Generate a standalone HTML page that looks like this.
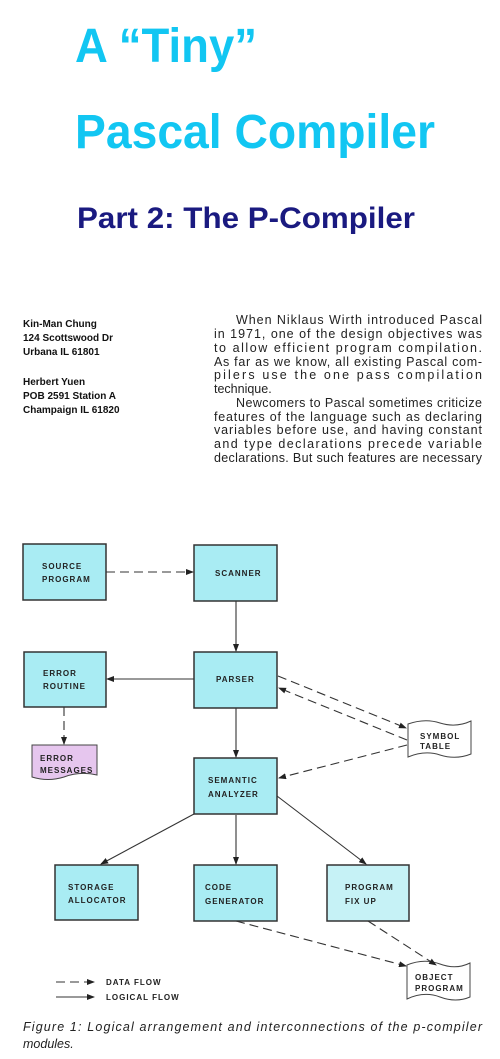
<!DOCTYPE html>
<html><head><meta charset="utf-8"><style>
html,body{margin:0;padding:0;background:#fff;}
svg{display:block}
.h{font-family:"Liberation Sans",sans-serif;font-weight:bold}
.b{font-family:"Liberation Sans",sans-serif;font-size:12.5px;fill:#222}
.a{font-family:"Liberation Sans",sans-serif;font-size:10px;font-weight:bold;fill:#111}
.l{font-family:"Liberation Sans",sans-serif;font-size:8px;fill:#222;letter-spacing:1px;font-weight:bold}
.c{font-family:"Liberation Sans",sans-serif;font-size:12.5px;font-style:italic;fill:#222}
</style></head><body>
<svg width="500" height="1059" viewBox="0 0 500 1059" xmlns="http://www.w3.org/2000/svg">
<defs><marker id="ar" markerWidth="8" markerHeight="6" refX="7" refY="3" orient="auto" markerUnits="userSpaceOnUse"><path d="M0,0 L8,3 L0,6 z" fill="#222"/></marker></defs>
<text class="h" x="75" y="62" font-size="48" fill="#12c6f2" textLength="182" lengthAdjust="spacingAndGlyphs">A “Tiny”</text>
<text class="h" x="75" y="148" font-size="48" fill="#12c6f2" textLength="360" lengthAdjust="spacingAndGlyphs">Pascal Compiler</text>
<text class="h" x="77" y="228" font-size="30" fill="#1a1a80" textLength="338" lengthAdjust="spacingAndGlyphs">Part 2: The P-Compiler</text>

<text class="a" x="23" y="327">Kin-Man Chung</text>
<text class="a" x="23" y="341">124 Scottswood Dr</text>
<text class="a" x="23" y="355">Urbana IL 61801</text>
<text class="a" x="23" y="385">Herbert Yuen</text>
<text class="a" x="23" y="399">POB 2591 Station A</text>
<text class="a" x="23" y="413">Champaign IL 61820</text>

<text class="b" x="236" y="324" textLength="246" lengthAdjust="spacing">When Niklaus Wirth introduced Pascal</text>
<text class="b" x="214" y="338" textLength="268" lengthAdjust="spacing">in 1971, one of the design objectives was</text>
<text class="b" x="214" y="352" textLength="268" lengthAdjust="spacing">to allow efficient program compilation.</text>
<text class="b" x="214" y="366" textLength="268" lengthAdjust="spacing">As far as we know, all existing Pascal com-</text>
<text class="b" x="214" y="379" textLength="268" lengthAdjust="spacing">pilers use the one pass compilation</text>
<text class="b" x="214" y="393">technique.</text>
<text class="b" x="236" y="407" textLength="246" lengthAdjust="spacing">Newcomers to Pascal sometimes criticize</text>
<text class="b" x="214" y="421" textLength="268" lengthAdjust="spacing">features of the language such as declaring</text>
<text class="b" x="214" y="434" textLength="268" lengthAdjust="spacing">variables before use, and having constant</text>
<text class="b" x="214" y="448" textLength="268" lengthAdjust="spacing">and type declarations precede variable</text>
<text class="b" x="214" y="462" textLength="268" lengthAdjust="spacing">declarations. But such features are necessary</text>

<g stroke="#333" stroke-width="1.5">
<rect x="23" y="544" width="83" height="56" fill="#a9ecf3"/>
<rect x="194" y="545" width="83" height="56" fill="#a9ecf3"/>
<rect x="24" y="652" width="82" height="55" fill="#a9ecf3"/>
<rect x="194" y="652" width="83" height="56" fill="#a9ecf3"/>
<rect x="194" y="758" width="83" height="56" fill="#a9ecf3"/>
<rect x="55" y="865" width="83" height="55" fill="#a9ecf3"/>
<rect x="194" y="865" width="83" height="56" fill="#a9ecf3"/>
<rect x="327" y="865" width="82" height="56" fill="#c6f2f6"/>
</g>
<path d="M32,745 L97,745 L97,775 Q80,771 64,777 Q48,782 32,777 Z" fill="#e6c6ee" stroke="#444" stroke-width="1"/>
<path d="M408,724 Q425,718 440,723 Q456,728 471,721 L471,754 Q456,760 440,755 Q425,750 408,757 Z" fill="#fff" stroke="#444" stroke-width="1"/>
<path d="M407,965 Q424,958 440,964 Q456,970 470,963 L470,997 Q456,1003 440,997 Q424,991 407,999 Z" fill="#fff" stroke="#444" stroke-width="1"/>

<g class="l">
<text x="42" y="569">SOURCE</text><text x="42" y="582">PROGRAM</text>
<text x="215" y="576">SCANNER</text>
<text x="43" y="676">ERROR</text><text x="43" y="689">ROUTINE</text>
<text x="216" y="682">PARSER</text>
<text x="40" y="761">ERROR</text><text x="40" y="773">MESSAGES</text>
<text x="420" y="739">SYMBOL</text><text x="420" y="749">TABLE</text>
<text x="208" y="783">SEMANTIC</text><text x="208" y="797">ANALYZER</text>
<text x="68" y="890">STORAGE</text><text x="68" y="903">ALLOCATOR</text>
<text x="205" y="890">CODE</text><text x="205" y="904">GENERATOR</text>
<text x="345" y="890">PROGRAM</text><text x="345" y="904">FIX UP</text>
<text x="415" y="980">OBJECT</text><text x="415" y="991">PROGRAM</text>
<text x="106" y="985">DATA FLOW</text>
<text x="106" y="1000">LOGICAL FLOW</text>
</g>

<g stroke="#333" stroke-width="1.1" fill="none" marker-end="url(#ar)">
<path d="M106,572 L193,572" stroke-dasharray="9,5"/>
<path d="M236,601 L236,651"/>
<path d="M194,679 L107,679"/>
<path d="M64,707 L64,744" stroke-dasharray="9,5"/>
<path d="M278,676 L406,728" stroke-dasharray="9,5"/>
<path d="M407,740 L279,688" stroke-dasharray="9,5"/>
<path d="M407,745 L279,778" stroke-dasharray="9,5"/>
<path d="M236,708 L236,757"/>
<path d="M194,814 L101,864"/>
<path d="M236,815 L236,864"/>
<path d="M277,796 L366,864"/>
<path d="M236,921 L406,966" stroke-dasharray="9,5"/>
<path d="M368,921 L436,965" stroke-dasharray="9,5"/>
<path d="M56,982 L94,982" stroke-dasharray="9,5"/>
<path d="M56,997 L94,997"/>
</g>

<text class="c" x="23" y="1031" textLength="459" lengthAdjust="spacing">Figure 1: Logical arrangement and interconnections of the p-compiler</text>
<text class="c" x="23" y="1048">modules.</text>
</svg>
</body></html>
